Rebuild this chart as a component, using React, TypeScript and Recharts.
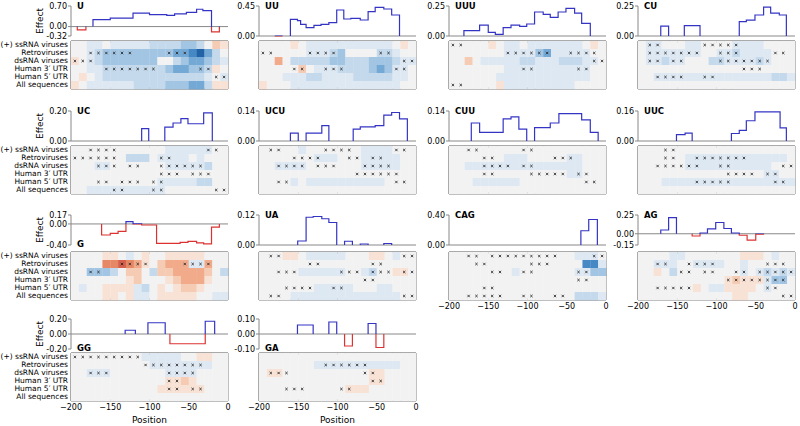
import React from 'react';
import {
  LineChart,
  Line,
  ScatterChart,
  Scatter,
  XAxis,
  YAxis,
  ReferenceLine,
  ReferenceArea,
} from 'recharts';

// heatmap row names (only shown on the first column)
const ROW_NAMES = ['(+) ssRNA viruses', 'Retroviruses', 'dsRNA viruses', 'Human 3\u2032 UTR', 'Human 5\u2032 UTR', 'All sequences'];
const X_TICKS = [-200, -150, -100, -50, 0];
// heat levels: + = blue, - = red; columns are 10 nt wide, centred at -195 ... -5

// ---- U
const U_X = [-192, -192, -181, -176, -172, -172, -150, -121, -100, -78, -68, -53, -40, -32, -21, -11];
const U_Y = [0, -0.11, 0, null, 0, 0.24, 0.29, 0.46, 0.41, 0.38, 0.43, 0.48, 0.59, 0.54, -0.18, 0];
const U_HEAT = [
  [0, 0, 1, 1, 0, 1, 1, 1, 1, 1, 2, 2, 2, 2, 3, 3, 2, 0, -2, -1],
  [0, 0, 1, 2, 3, 3, 3, 3, 3, 3, 3, 3, 3, 4, 4, 5, 6, 4, 2, 0],
  [-1, 0, 1, 2, 3, 3, 3, 3, 3, 3, 3, 0, 0, 2, 3, 4, 4, 3, 2, 1],
  [0, 0, 1, 1, 2, 2, 2, 2, 2, 2, 2, 2, 3, 4, 4, 3, 3, 2, -1, 0],
  [0, -1, 0, 1, 2, 2, 2, 2, 2, 2, 2, 2, 2, 2, 2, 2, 2, 1, 0, 1],
  [-1, 0, 1, 1, 1, 1, 1, 1, 2, 2, 2, 2, 3, 3, 3, 4, 4, 2, -1, -1],
];
const U_MARKS = [[], [2, 3, 4, 5, 6, 7, 12, 13, 14], [0, 1, 2], [4, 5, 6, 7, 8, 9, 10, 16, 17], [18, 19], []];

// ---- UU
const UU_X = [-180, -170, -165, -160, -160, -151, -147, -140, -130, -121, -111, -101, -92, -83, -71, -61, -52, -41, -31, -21];
const UU_Y = [0, 0, null, 0, 0.25, 0.23, 0.175, 0.125, 0.16, 0.175, 0.2, 0.39, 0.255, 0.265, 0.24, 0.365, 0.43, 0.405, 0.315, 0];
const UU_HEAT = [
  [0, 0, 0, 0, -1, 0, 1, 1, 1, 1, 1, 1, 1, 1, 1, 1, 1, 0, -1, 0],
  [0, 0, 0, 0, 0, 0, 1, 1, 1, 2, 3, 0, 0, 0, 0, 2, 2, 1, 0, 0],
  [0, 0, -3, 0, 2, 2, 2, 2, 2, 3, 3, 2, 2, 2, 3, 3, 3, 2, 1, 1],
  [0, 0, 0, 0, 0, -2, 0, 1, 1, 1, 2, 2, 2, 2, 3, 4, 3, 1, 1, 0],
  [0, 0, 0, 1, 1, 1, 2, 2, 1, 1, 1, 1, 2, 2, 2, 2, 2, 1, 1, 0],
  [-1, 0, 0, 0, 1, 1, 1, 1, 1, 1, 1, 1, 1, 1, 1, 1, 1, 1, 0, 0],
];
const UU_MARKS = [[], [0, 1, 6, 7, 8, 9, 15, 16], [18, 19], [4, 5, 8, 9, 10, 17, 18], [], []];

// ---- UUU
const UUU_X = [-181, -181, -161, -150, -141, -131, -121, -110, -101, -91, -80, -71, -61, -51, -40, -31, -20];
const UUU_Y = [0, 0.044, 0.09, 0.03, 0.014, 0.07, 0.09, 0.08, 0.1, 0.2, 0.18, 0.155, 0.2, 0.23, 0.19, 0.105, 0];
const UUU_HEAT = [
  [0, 0, 0, 0, 0, -1, 0, 1, 1, 0, 1, 1, 1, 1, 1, 1, 1, 0, -1, 0],
  [0, 0, 0, 0, 0, 0, 0, 1, 1, 1, 1, 3, 4, 1, 1, 1, 1, 1, 0, 0],
  [0, 0, -2, 0, 1, 1, 1, 1, 1, 2, 2, 1, 1, 1, 2, 2, 2, 1, 1, 0],
  [0, 0, 0, 0, 0, 0, 0, 1, 1, 1, 1, 1, 1, 1, 1, 1, 1, 1, 0, 0],
  [0, 0, 0, 0, 0, 0, 1, 1, 1, 1, 1, 1, 1, 1, 1, 1, 1, 1, 0, 0],
  [0, 0, 0, 0, 0, 0, -1, 1, 1, 1, 1, 1, 1, 1, 1, 1, 0, 0, 0, 0],
];
const UUU_MARKS = [[0, 1], [7, 8, 9, 10, 11, 12, 15, 16, 17, 18], [18, 19], [9, 10, 16, 17], [], [0, 1]];

// ---- CU
const CU_X = [-171, -171, -161, -150, -141, -141, -121, -100, -71, -71, -62, -51, -40, -31, -20, -11];
const CU_Y = [0, 0.083, 0, null, 0, 0.086, 0, null, 0, 0.12, 0.133, 0.175, 0.24, 0.19, 0.175, 0];
const CU_HEAT = [
  [0, 1, 1, 0, 0, 0, 1, 1, 0, 0, 0, 0, 1, 1, 1, 1, 0, 0, 0, 0],
  [0, 1, 1, 1, 1, 1, 1, 1, 0, 0, 1, 1, 2, 1, 1, 1, 1, 0, 0, 0],
  [0, 1, 1, 2, 1, 1, 0, 0, 0, 2, 2, 1, 1, 1, 1, 2, 1, 0, 0, 0],
  [0, 0, 0, 0, 0, 0, 0, 0, 0, 0, 0, 0, 0, 0, 0, 0, 0, 0, 0, 0],
  [0, 0, 1, 1, 1, 1, 1, 1, 1, 1, 1, 1, 1, 1, 1, 1, 1, 2, 2, 1],
  [0, 0, 0, 0, 0, 0, 0, 0, 0, 0, 0, 0, 0, 0, 0, 0, 0, 0, 0, 0],
];
const CU_MARKS = [[1, 2, 8, 9, 10, 11, 12], [1, 2, 3, 4, 5, 6, 7, 10, 11, 12, 17, 18], [1, 2, 4, 5, 10, 11, 12, 13, 14, 15, 16], [13, 14, 15], [2, 3, 4, 5, 8, 9], []];

// ---- UC
const UC_X = [-110, -110, -101, -90, -80.5, -80.5, -70, -60, -51, -31, -20];
const UC_Y = [0, 0.082, 0, null, 0, 0.093, 0.12, 0.149, 0.115, 0.187, 0];
const UC_HEAT = [
  [0, 0, 0, 0, 0, 0, 0, 0, 0, 0, 0, 0, 1, 1, 1, 1, 1, 1, 0, 0],
  [0, 0, 0, 0, 0, 0, 0, 2, 2, 2, 0, 1, 1, 1, 1, 0, 1, 0, 0, 0],
  [0, 0, 0, 1, 1, 0, 0, 0, 0, 0, 0, 0, 1, 1, 1, 1, 1, 2, 0, 0],
  [0, 0, 0, 0, 0, 0, 0, 0, 0, 0, 0, 0, 0, 0, 0, 0, 0, 0, 0, 0],
  [0, 0, 0, 0, 0, 0, 0, 0, 0, 0, 0, 1, 1, 1, 1, 1, 2, 2, 0, 0],
  [0, 0, 1, 1, 1, 1, 1, 1, 1, 1, 1, 1, 0, 0, 0, 0, 0, 0, 0, 0],
];
const UC_MARKS = [[2, 3, 4, 5, 17, 18], [0, 1, 2, 3, 4, 5, 11, 12], [3, 4, 5, 7, 8, 11, 12, 13, 14, 15, 16], [11, 12, 13, 15, 16, 17], [3, 4, 6, 7, 8, 10, 11], [5, 6, 10, 11, 18, 19]];

// ---- UCU
const UCU_X = [-160, -160, -150, -145, -140, -140, -120, -111, -105, -80, -80, -71, -52, -41, -31, -21, -11];
const UCU_Y = [0, 0.037, 0, null, 0, 0.037, 0.072, 0, null, 0, 0.055, 0.066, 0.072, 0.121, 0.133, 0.103, 0];
const UCU_HEAT = [
  [0, 0, 0, 0, 0, 1, 0, 0, 0, 0, 0, 0, 0, 1, 1, 1, 1, 0, 0, 0],
  [0, 0, 0, 0, 0, 0, 0, 1, 1, 1, 0, 0, 0, 1, 1, 1, 1, 1, 0, 0],
  [0, 0, 1, 1, 1, 1, 0, 0, 0, 0, 0, 0, 0, 1, 1, 1, 1, 1, 0, 0],
  [0, 0, 0, 0, 0, 0, 0, 0, 0, 0, 0, 0, 0, 0, 0, 0, 0, 0, 0, 0],
  [0, 0, 0, 0, 1, 0, 1, 1, 1, 1, 1, 1, 1, 1, 1, 1, 0, 0, 0, 0],
  [0, 0, 0, 0, 0, 0, 0, 0, 0, 0, 0, 0, 0, 0, 0, 0, 0, 0, 0, 0],
];
const UCU_MARKS = [[1, 2, 8, 9, 10, 11, 17, 18], [4, 5, 6, 7, 11, 12, 14, 15], [2, 3, 4, 5, 7, 8, 9, 13, 14, 15, 16], [12, 13, 14, 15, 16, 17], [2, 3, 17, 18], []];

// ---- CUU
const CUU_X = [-171.6, -171.6, -161, -131, -121, -111, -101, -96, -91, -91, -71, -60, -31, -20, -10];
const CUU_Y = [0, 0.084, 0.04, 0.103, 0.113, 0.055, 0, null, 0, 0.062, 0.084, 0.128, 0.099, 0.04, 0];
const CUU_HEAT = [
  [0, 0, 0, 0, 0, 0, 0, 0, 0, 0, 0, 0, 0, 0, 0, 0, 0, 0, 0, 0],
  [0, 0, 0, 0, 0, 0, 0, 1, 1, 1, 0, 0, 0, 0, 0, 1, 1, 0, 0, 0],
  [0, 0, 1, 1, 1, 1, 1, 1, 1, 1, 1, 1, 1, 1, 1, 1, 1, 0, 0, 0],
  [0, 0, 0, 0, 0, 0, 0, 0, 0, 0, 0, 0, 0, 0, 0, 1, 1, 0, 0, 0],
  [0, 0, 0, 1, 1, 1, 1, 1, 1, 0, 0, 0, 0, 0, 0, 0, 0, 0, 0, 0],
  [0, 0, 0, 0, 0, 0, 0, 0, 0, 0, 0, 0, 0, 0, 0, 0, 0, 0, 0, 0],
];
const CUU_MARKS = [[2, 3, 9, 10], [4, 5, 13, 14, 15], [4, 5, 6, 7, 9, 10], [4, 5, 10, 11, 12, 13, 14, 16, 17], [17, 18], []];

// ---- UUC
const UUC_X = [-151, -151, -140, -131, -120, -81, -81, -71, -62, -51, -19, -11];
const UUC_Y = [0, 0.034, 0.042, 0, null, 0, 0.04, 0.057, 0.108, 0.155, 0.07, 0];
const UUC_HEAT = [
  [0, 0, 0, 0, 0, 0, 0, 0, 0, 0, 0, 0, 0, 0, 0, 0, 0, 0, 0, 0],
  [0, 0, 0, 0, 0, 0, 1, 1, 1, 1, 1, 1, 1, 1, 1, 1, 1, 1, 1, 0],
  [0, 0, 0, 0, 0, 0, 1, 1, 1, 1, 1, 1, 1, 1, 1, 1, 1, 0, 0, 0],
  [0, 0, 0, 0, 0, 0, 0, 0, 0, 0, 0, 0, 0, 0, 0, 0, 1, 1, 0, 0],
  [0, 0, 0, 1, 1, 1, 1, 1, 1, 1, 1, 1, 1, 1, 1, 1, 1, 1, 1, 1],
  [0, 0, 0, 0, 0, 0, 0, 0, 0, 0, 0, 0, 0, 0, 0, 0, 0, 0, 0, 0],
];
const UUC_MARKS = [[3, 4], [3, 4, 7, 8, 9, 10, 11, 12, 13], [2, 3, 4, 5, 6, 7, 10, 11, 18, 19], [11, 12, 13, 14, 16, 17], [7, 8, 9, 10, 11, 17, 18], []];

// ---- G
const G_X = [-161, -161, -150, -140, -130, -121, -110, -91, -61, -51, -40, -31, -21, -11];
const G_Y = [0, -0.21, -0.18, -0.14, 0.045, 0.0, -0.02, -0.37, -0.35, -0.33, -0.36, -0.38, -0.06, 0];
const G_HEAT = [
  [0, 0, 0, 0, -1, -1, 0, 1, 0, -1, 0, 0, -1, -1, -1, -1, -1, 0, 0, 0],
  [0, 0, 0, 0, -4, -4, -5, -4, -3, -1, 0, -2, -3, -3, -3, 1, 1, -3, 0, 0],
  [0, 0, 3, 3, 3, 2, 0, -2, -2, 0, 2, -2, -2, -3, -3, -3, -3, -2, 0, 2],
  [0, 0, 0, 0, 0, 0, 0, -1, -2, 0, 0, 0, -1, -2, -3, -3, -3, -1, 0, 0],
  [0, 1, 0, 0, -1, -1, -1, -1, 1, 2, 0, -1, 0, -1, -2, -2, -1, 0, 0, 0],
  [0, 0, 0, 0, -1, -1, 0, -1, 1, 1, 0, -1, -1, -1, -1, -1, 0, 0, 1, 1],
];
const G_MARKS = [[], [6, 7, 8, 9, 14, 15, 16, 17], [2, 3], [], [], []];

// ---- UA
const UA_X = [-150.7, -150.7, -140, -131, -120, -111, -101, -96, -91, -91, -81, -76, -71, -71, -61, -50, -41, -41, -31];
const UA_Y = [0, 0.016, 0.111, 0.114, 0.105, 0.09, 0, null, 0, 0.015, 0, null, 0, 0.004, 0, null, 0, 0.006, 0];
const UA_HEAT = [
  [0, 0, 0, -1, -1, 0, 1, 1, 1, 1, 1, 0, 0, 0, -1, -1, 0, 1, 0, 0],
  [0, 0, 0, 0, 0, 0, 0, 0, 0, 0, 0, 0, 0, 0, 0, 0, 0, 0, 0, 0],
  [0, 0, 0, 0, 0, 1, 1, 1, 1, 1, 1, 0, 0, 1, 2, 0, 0, -1, -1, 0],
  [0, 0, 0, 0, 0, 0, 0, 0, 0, 0, 0, 0, 0, 0, 0, 0, 0, 0, 0, 0],
  [0, 0, 0, 0, 0, 0, 0, 1, 1, 1, 1, 1, 0, 0, 0, 1, 1, 0, 0, 0],
  [0, 0, 0, 0, 1, 1, 1, 1, 1, 1, 1, 1, 1, 1, 1, 1, 1, 1, 0, 0],
];
const UA_MARKS = [[1, 2, 18, 19], [6, 7, 14, 15], [2, 3, 4, 10, 11, 12, 14, 15, 16, 18, 19], [13, 14], [3, 4, 5, 6, 9, 10], [1, 2, 18, 19]];

// ---- CAG
const CAG_X = [-32, -32, -22, -11];
const CAG_Y = [0, 0.19, 0.34, 0];
const CAG_HEAT = [
  [0, 0, 0, 0, 0, 0, 0, 0, 0, 0, 0, 0, 0, 0, 0, 0, 1, 1, 1, 0],
  [0, 0, 0, 0, 0, 0, 0, 0, 0, 0, 0, 0, 0, 0, 0, 0, 0, 5, 5, 1],
  [0, 0, 0, 0, 0, 0, 0, 0, 1, 0, 0, 0, 0, 0, 0, 0, 1, 1, 3, 3],
  [0, 0, 0, 0, 0, 0, 0, 0, 0, 0, 0, 0, 0, 0, 0, 0, 0, 0, 0, 0],
  [0, 0, 0, 0, 0, 0, 0, 0, 0, 0, 0, 0, 0, 0, 0, 0, 0, 0, 0, 0],
  [0, 0, 0, 0, 0, 0, 0, 0, 0, 0, 0, 0, 0, 0, 0, 0, 2, 2, 2, 1],
];
const CAG_MARKS = [[2, 3, 5, 6, 7, 8, 9, 10, 11, 12, 13, 18, 19], [3, 4, 10, 11, 12], [5, 6, 9, 10, 16, 17], [16, 17], [4, 5], [2, 3, 4, 5, 6, 9, 10, 13, 14]];

// ---- AG
const AG_X = [-171, -171, -161, -151, -140, -131, -131, -121, -111.5, -101, -90.6, -81, -71, -61, -50, -40];
const AG_Y = [0, 0.05, 0.215, 0, null, 0, -0.03, 0.01, 0.065, 0.15, 0.07, 0.01, -0.02, -0.086, -0.005, 0];
const AG_HEAT = [
  [0, 0, 0, 0, 1, 1, 0, 0, 0, 0, 0, 0, 0, -1, -1, -1, 0, 1, 0, 0],
  [0, 0, 1, 1, 1, 0, 0, 1, 1, 1, 1, 0, 0, 1, 0, 0, 0, 0, 0, 0],
  [0, 0, -1, 0, 2, 0, 0, 0, 0, 0, 0, 0, 0, 1, 0, 1, 2, 1, 2, 1],
  [0, 0, 0, 0, 0, 0, 0, 0, 0, 0, 0, -1, -2, -1, -1, -1, 1, 3, 3, 0],
  [0, 0, 0, 0, 0, 0, 0, -1, 0, 1, 1, -1, -1, -1, -1, 0, 1, 0, 0, 0],
  [0, 0, 0, 0, 0, 0, 0, 0, 0, 0, 0, 0, -1, -1, 0, 0, 0, 0, 0, 0],
];
const AG_MARKS = [[], [2, 3, 6, 7, 8, 9, 16, 17, 18], [5, 6, 8, 9, 12, 13, 15, 16, 17, 18, 19], [11, 12, 13, 14, 15, 16, 17, 18], [2, 3, 4, 5, 6, 16, 17], [18, 19]];

// ---- GG
const GG_X = [-131, -131, -118, -110, -102, -102, -80, -76, -74, -74, -29, -17];
const GG_Y = [0, 0.05, 0, null, 0, 0.15, 0, null, 0, -0.13, 0.17, 0];
const GG_HEAT = [
  [0, 0, 0, 0, 0, 0, 0, 0, 0, 1, 1, 1, 1, 1, 0, 0, -1, -1, 0, 0],
  [0, 0, 0, 0, 0, 0, 0, 0, 0, 0, 1, 1, 1, 1, 1, 1, 1, 1, 0, 0],
  [0, 0, 1, 1, 1, 0, 0, 0, 0, 0, 0, 0, 1, 1, 1, 1, 0, 0, 0, 0],
  [0, 0, 0, 0, 0, 0, 0, 0, 0, 0, 0, 0, -1, -1, -2, -1, 0, 0, 0, 0],
  [0, 0, 0, 0, 0, 0, 0, 0, 0, 0, 0, -1, -1, -1, -1, -1, -1, 0, 0, 0],
  [0, 0, 0, 0, 0, 0, 0, 0, 0, 0, 0, 0, 0, 0, 0, 0, 0, 0, 0, 0],
];
const GG_MARKS = [[0, 1, 2, 3, 4, 5, 6, 7, 8], [9, 10, 11, 12, 13, 14, 15, 16], [2, 3, 4, 12, 13, 14, 15], [12, 13], [12, 13, 15, 16], []];

// ---- GA
const GA_X = [-151, -151, -131, -125, -111, -111, -101, -98, -91, -91, -81, -75, -61, -61, -51, -41];
const GA_Y = [0, 0.06, 0, null, 0, 0.08, 0, null, 0, -0.08, 0, null, 0, 0.07, -0.09, 0];
const GA_HEAT = [
  [0, 0, 0, 0, 0, 0, 0, 0, 0, 0, 0, 0, 0, 0, 0, 0, 0, 0, 0, 0],
  [0, 0, 0, 0, 0, 0, 0, 1, 1, 1, 1, 1, 1, 1, 1, 1, 1, 1, 0, 0],
  [0, -1, -1, 0, 0, 0, 0, 0, 0, 0, 0, 0, 0, 0, -1, -1, 0, 0, 0, 0],
  [0, 0, 0, 0, 0, 0, 0, 0, 0, 0, 0, 0, 0, 0, -1, -1, 0, 0, 0, 0],
  [0, 0, 0, 0, 0, 0, 0, 0, 0, 0, 0, -1, -1, -1, 0, 0, 0, 0, 0, 0],
  [0, 0, 0, 0, 0, 0, 0, 0, 0, 0, 0, 0, 0, 0, 0, 0, 0, 0, 0, 0],
];
const GA_MARKS = [[], [8, 9, 10, 11, 12, 13], [1, 2, 3, 13, 14], [14, 15], [3, 4, 5, 10, 11], []];

const PANELS = [
  { name: 'U', col: 0, row: 0, top: 0.7, bottom: -0.32, xs: U_X, ys: U_Y, heat: U_HEAT, marks: U_MARKS },
  { name: 'UU', col: 1, row: 0, top: 0.45, bottom: 0, xs: UU_X, ys: UU_Y, heat: UU_HEAT, marks: UU_MARKS },
  { name: 'UUU', col: 2, row: 0, top: 0.25, bottom: 0, xs: UUU_X, ys: UUU_Y, heat: UUU_HEAT, marks: UUU_MARKS },
  { name: 'CU', col: 3, row: 0, top: 0.25, bottom: 0, xs: CU_X, ys: CU_Y, heat: CU_HEAT, marks: CU_MARKS },
  { name: 'UC', col: 0, row: 1, top: 0.2, bottom: 0, xs: UC_X, ys: UC_Y, heat: UC_HEAT, marks: UC_MARKS },
  { name: 'UCU', col: 1, row: 1, top: 0.14, bottom: 0, xs: UCU_X, ys: UCU_Y, heat: UCU_HEAT, marks: UCU_MARKS },
  { name: 'CUU', col: 2, row: 1, top: 0.14, bottom: 0, xs: CUU_X, ys: CUU_Y, heat: CUU_HEAT, marks: CUU_MARKS },
  { name: 'UUC', col: 3, row: 1, top: 0.16, bottom: 0, xs: UUC_X, ys: UUC_Y, heat: UUC_HEAT, marks: UUC_MARKS },
  { name: 'G', col: 0, row: 2, top: 0.17, bottom: -0.4, xs: G_X, ys: G_Y, heat: G_HEAT, marks: G_MARKS, low: true },
  { name: 'UA', col: 1, row: 2, top: 0.12, bottom: 0, xs: UA_X, ys: UA_Y, heat: UA_HEAT, marks: UA_MARKS },
  { name: 'CAG', col: 2, row: 2, top: 0.4, bottom: 0, xs: CAG_X, ys: CAG_Y, heat: CAG_HEAT, marks: CAG_MARKS, axis: true },
  { name: 'AG', col: 3, row: 2, top: 0.25, bottom: -0.15, xs: AG_X, ys: AG_Y, heat: AG_HEAT, marks: AG_MARKS, axis: true },
  { name: 'GG', col: 0, row: 3, top: 0.2, bottom: -0.2, xs: GG_X, ys: GG_Y, heat: GG_HEAT, marks: GG_MARKS, low: true, axis: true },
  { name: 'GA', col: 1, row: 3, top: 0.1, bottom: -0.1, xs: GA_X, ys: GA_Y, heat: GA_HEAT, marks: GA_MARKS, low: true, axis: true },
];

// layout (page pixels)
const COL_X = [71, 259, 449, 638];
const PLOT_W = 157;
const LINE_TOP = [6, 111, 215, 319];
const LINE_H = 30;
const HEAT_TOP = [41, 146, 252, 353];
const HEAT_H = 48;
const YW = 32;
const MT = 6;
const SIDE = 12; // room for the outer x tick labels

const FONT = '"DejaVu Sans", sans-serif';
const BLUE_LINE = '#3434c4';
const RED_LINE = '#dc3232';
const FRAME = '#555555';
const BLUES = ['#f2f2f2', '#dde8f3', '#c4d9ec', '#a2c5e3', '#74a9d5', '#4688c4', '#2263a8'];
const REDS = ['#f2f2f2', '#f8e2d6', '#f6cbb3', '#f1ab8b', '#e68766', '#d6604b'];

const cellColor = (v: number) => (v >= 0 ? BLUES[v] : REDS[-v]);

function EffectPlot({ p }: { p: any }) {
  const data = p.xs.map((x: number, i: number) => ({ x, y: p.ys[i] }));
  const ticks = p.bottom < 0 ? [p.bottom, 0, p.top] : [0, p.top];
  const zf = p.top / (p.top - p.bottom);
  const id = 'grad-' + p.name;
  return (
    <div style={{ position: 'absolute', left: COL_X[p.col] - YW, top: LINE_TOP[p.row] - MT }}>
      <LineChart width={YW + PLOT_W + 4} height={LINE_H + MT + 6} data={data} margin={{ top: MT, right: 4, bottom: 6, left: 0 }}>
        <defs>
          <linearGradient id={id} x1={0} y1={MT} x2={0} y2={MT + LINE_H} gradientUnits="userSpaceOnUse">
            <stop offset={zf} stopColor={BLUE_LINE} />
            <stop offset={zf} stopColor={RED_LINE} />
          </linearGradient>
        </defs>
        <XAxis type="number" dataKey="x" domain={[-200, 0]} hide />
        <YAxis
          type="number"
          domain={[p.bottom, p.top]}
          ticks={ticks}
          interval={0}
          width={YW}
          tickFormatter={(v: number) => v.toFixed(2)}
          tick={{ fontSize: 8, fill: '#000', fontFamily: FONT }}
          tickSize={3}
          tickMargin={1}
          axisLine={{ stroke: '#888' }}
          tickLine={{ stroke: '#888' }}
        />
        <ReferenceLine y={0} stroke="#888" strokeWidth={1} />
        <Line
          dataKey="y"
          type="stepAfter"
          stroke={`url(#${id})`}
          strokeWidth={1.2}
          dot={false}
          activeDot={false}
          connectNulls={false}
          isAnimationActive={false}
        />
      </LineChart>
      <div
        style={{
          position: 'absolute',
          left: YW + 6,
          top: p.low ? MT + LINE_H - 6 : MT - 5,
          fontFamily: FONT,
          fontWeight: 'bold',
          fontSize: 8.5,
          lineHeight: '10px',
        }}
      >
        {p.name}
      </div>
    </div>
  );
}

const CellShape = (props: any) => {
  const { cx, cy, payload } = props;
  const w = PLOT_W / 20;
  const h = HEAT_H / 6;
  return <rect x={cx - w / 2} y={cy - h / 2} width={w + 0.3} height={h + 0.3} fill={cellColor(payload.v)} />;
};

const MarkShape = (props: any) => {
  const { cx, cy } = props;
  const s = 1.2;
  return (
    <g stroke="#222" strokeWidth={0.8}>
      <line x1={cx - s} y1={cy - s} x2={cx + s} y2={cy + s} />
      <line x1={cx - s} y1={cy + s} x2={cx + s} y2={cy - s} />
    </g>
  );
};

const RowTick = (props: any) => {
  const { x, y, payload } = props;
  return (
    <text x={x} y={y} dy="0.33em" textAnchor="end" fontSize={7.5} fontFamily={FONT} fill="#000">
      {ROW_NAMES[Math.floor(payload.value)]}
    </text>
  );
};

const PosTick = (props: any) => {
  const { x, y, payload } = props;
  const v = payload.value;
  return (
    <text x={x} y={y} dy="0.71em" textAnchor="middle" fontSize={8} fontFamily={FONT} fill="#000">
      {v < 0 ? '\u2212' + Math.abs(v) : String(v)}
    </text>
  );
};

function HeatMap({ p }: { p: any }) {
  const yw = p.col === 0 ? 71 : 0;
  const ml = p.col === 0 ? 0 : SIDE;
  const cells: any[] = [];
  p.heat.forEach((r: number[], ri: number) => r.forEach((v, ci) => cells.push({ x: -195 + 10 * ci, y: ri + 0.5, v })));
  const marks: any[] = [];
  p.marks.forEach((r: number[], ri: number) => r.forEach((ci) => marks.push({ x: -195 + 10 * ci, y: ri + 0.5 })));
  const xh = p.axis ? 14 : 0;
  return (
    <div style={{ position: 'absolute', left: COL_X[p.col] - yw - ml, top: HEAT_TOP[p.row] - 1 }}>
      <ScatterChart width={yw + ml + PLOT_W + SIDE} height={HEAT_H + 2 + xh} margin={{ top: 1, right: SIDE, bottom: 1, left: ml }}>
        <XAxis
          type="number"
          dataKey="x"
          domain={[-200, 0]}
          ticks={X_TICKS}
          interval={0}
          hide={!p.axis}
          height={xh}
          axisLine={false}
          tickLine={false}
          tickSize={0}
          tickMargin={3}
          tick={<PosTick />}
        />
        <YAxis
          type="number"
          dataKey="y"
          domain={[0, 6]}
          reversed
          hide={p.col !== 0}
          width={yw}
          ticks={[0.5, 1.5, 2.5, 3.5, 4.5, 5.5]}
          interval={0}
          axisLine={false}
          tickLine={false}
          tickSize={0}
          tickMargin={3}
          tick={<RowTick />}
        />
        <Scatter data={cells} shape={CellShape} isAnimationActive={false} />
        <Scatter data={marks} shape={MarkShape} isAnimationActive={false} />
        <ReferenceArea x1={-200} x2={0} y1={0} y2={6} fill="none" stroke={FRAME} strokeWidth={1} fillOpacity={0} />
        {[-150, -100, -50].map((t) => (
          <ReferenceLine key={'a' + t} segment={[{ x: t, y: 0 }, { x: t, y: 0.25 }]} stroke={FRAME} />
        ))}
        {[-150, -100, -50].map((t) => (
          <ReferenceLine key={'b' + t} segment={[{ x: t, y: 5.75 }, { x: t, y: 6 }]} stroke={FRAME} />
        ))}
      </ScatterChart>
    </div>
  );
}

export default function App() {
  return (
    <div style={{ position: 'absolute', left: 0, top: 0, width: 800, height: 426, background: '#fff', fontFamily: FONT }}>
      {PANELS.map((p) => (
        <React.Fragment key={p.name}>
          <EffectPlot p={p} />
          <HeatMap p={p} />
        </React.Fragment>
      ))}
      {LINE_TOP.map((t, i) => (
        <div
          key={'eff' + i}
          style={{
            position: 'absolute',
            left: 40 - 20,
            top: t + LINE_H / 2 - 6,
            width: 40,
            textAlign: 'center',
            fontSize: 9,
            lineHeight: '12px',
            transform: 'rotate(-90deg)',
          }}
        >
          Effect
        </div>
      ))}
      {[0, 1].map((c) => (
        <div
          key={'pos' + c}
          style={{
            position: 'absolute',
            left: COL_X[c],
            top: 415,
            width: PLOT_W,
            textAlign: 'center',
            fontSize: 9,
            lineHeight: '10px',
          }}
        >
          Position
        </div>
      ))}
    </div>
  );
}
